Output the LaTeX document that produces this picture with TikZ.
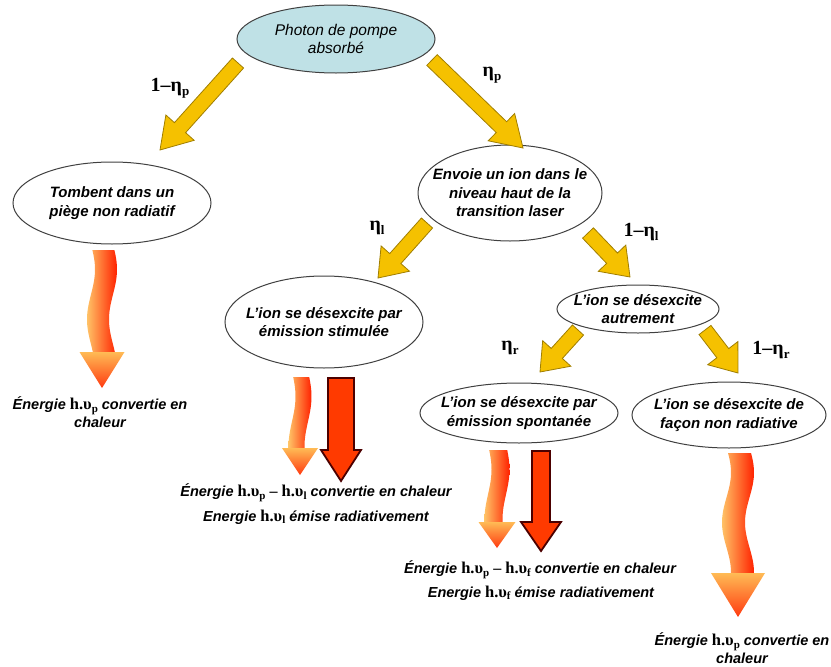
\documentclass[tikz,border=0pt]{standalone}
\usepackage{fontspec}
\setmainfont{Liberation Sans}
\newfontfamily\tnr{Liberation Serif}
\usetikzlibrary{shapes.geometric,calc}
\definecolor{cyanfill}{HTML}{BFE1E6}
\definecolor{gold}{HTML}{F5C100}
\definecolor{golddark}{HTML}{A07E00}
\definecolor{redarrow}{HTML}{FF3A00}
\definecolor{heatL}{HTML}{FFC266}
\definecolor{heatR}{HTML}{FF2200}
\definecolor{heatHT}{HTML}{FFBB55}
\definecolor{heatHB}{HTML}{FF3A10}
\newcommand\hv[1]{{\tnr\upshape\bfseries\fontsize{16.5}{16}\selectfont h.υ}\raisebox{-0.35ex}{\tnr\upshape\bfseries\fontsize{11}{11}\selectfont #1}}
\newcommand\etasub[1]{{\tnr\bfseries η}\raisebox{-0.45ex}{\tnr\bfseries\fontsize{13}{13}\selectfont #1}}
\newcommand\yarrow[3]{%
  \coordinate (ya) at (#1); \coordinate (yb) at (#2);
  \coordinate (yh) at ($(yb)!#3pt!(ya)$);
  \draw[yarrowstyle] ($(ya)!7.5pt!90:(yb)$) -- ($(yh)!7.5pt!90:(yb)$) -- ($(yh)!19pt!90:(yb)$) -- (yb)
     -- ($(yh)!19pt!-90:(yb)$) -- ($(yh)!7.5pt!-90:(yb)$) -- ($(ya)!7.5pt!-90:(yb)$) -- cycle;}
\newcommand\heat[7]{%
  \shade[left color=heatL, right color=heatR]
    plot[variable=\t, domain=0:1, samples=40, smooth] ({#1-#5+#7*sin((\t*(#3+2-#2))*3.6+20)},{#2+\t*(#3+2-#2)})
    -- plot[variable=\t, domain=0:1, samples=40, smooth] ({#1+#5+#7*sin(((1-\t)*(#3+2-#2))*3.6+20)},{#3+2-\t*(#3+2-#2)}) -- cycle;
  \shade[top color=heatHT, bottom color=heatHB] (#1-#6,#3) -- (#1+#6,#3) -- (#1,#4) -- cycle;}
\newcommand\redarr[6]{%
  \draw[redarrowstyle] (#1-#5,#2) -- (#1+#5,#2) -- (#1+#5,#3) -- (#1+#6,#3) -- (#1,#4) -- (#1-#6,#3) -- (#1-#5,#3) -- cycle;}
\tikzset{
  bubble/.style={ellipse, draw=black!75, line width=1pt, inner sep=0pt, fill=white},
  btxt/.style={align=center, inner sep=0pt, font=\fontsize{15}{18.5}\selectfont\bfseries\itshape},
  yarrowstyle/.style={fill=gold, draw=golddark, line width=0.8pt, line join=miter},
  redarrowstyle/.style={fill=redarrow, draw=black!70!red, line width=1.8pt, line join=miter},
  lab/.style={font=\fontsize{20}{20}\selectfont\tnr\bfseries, inner sep=0pt},
  etxt/.style={font=\fontsize{14.5}{18}\selectfont\bfseries\itshape, inner sep=0pt, align=center},
}
\begin{document}
\begin{tikzpicture}[x=1pt,y=-1pt]
\useasboundingbox (0,0) rectangle (831,667);
% ellipses
\node[bubble, fill=cyanfill, minimum width=198, minimum height=68] (photon) at (336,39) {};
\node[btxt, font=\fontsize{15.5}{18.5}\selectfont\itshape] (photonT) at (photon) {Photon de pompe\\absorbé};
\node[bubble, minimum width=198, minimum height=82] (tomb) at (112,203) {};
\node[btxt] (tombT) at (tomb) {Tombent dans un\\piège non radiatif};
\node[bubble, minimum width=184, minimum height=96] (envoie) at (510,193) {};
\node[btxt] (envoieT) at (envoie) {Envoie un ion dans le\\niveau haut de la\\transition laser};
\node[bubble, minimum width=198, minimum height=92] (stim) at (324,322) {};
\node[btxt] (stimT) at (stim) {L’ion se désexcite par\\émission stimulée};
\node[bubble, minimum width=162, minimum height=48] (autre) at (638,309) {};
\node[btxt] (autreT) at (autre) {L’ion se désexcite\\autrement};
\node[bubble, minimum width=198, minimum height=60] (spont) at (519,413) {};
\node[btxt] (spontT) at (spont) {L’ion se désexcite par\\émission spontanée};
\node[bubble, minimum width=194, minimum height=66] (nonrad) at (729,415) {};
\node[btxt] (nonradT) at (nonrad) {L’ion se désexcite de\\façon non radiative};
% yellow arrows
\yarrow{238,63}{160,150}{30}
\yarrow{432,60}{523,148}{30}
\yarrow{427,223}{378,278}{26}
\yarrow{588,233}{630,277}{26}
\yarrow{578,330}{540,372}{25}
\yarrow{705,330}{738,373}{25}
% labels
\node[lab] (l1) at (170,88) {1–\etasub{p}};
\node[lab] (l2) at (492,75) {\etasub{p}};
\node[lab] (l3) at (377,228) {\etasub{l}};
\node[lab] (l4) at (641,232) {1–\etasub{l}};
\node[lab] (l5) at (510,348) {\etasub{r}};
\node[lab] (l6) at (771,350) {1–\etasub{r}};
% heat arrows
\heat{102}{250}{352}{388}{11}{22.5}{4}
\heat{300}{377}{448}{475}{8}{18}{3.5}
\heat{497}{450}{522}{548}{9}{18.5}{3.5}
\heat{738}{453}{573}{617}{11.5}{27}{4.5}
% red arrows
\redarr{341}{378}{450}{481}{13}{20}
\redarr{541}{451}{522}{551}{9}{20}
% texts
\node[etxt] (t1) at (100,412) {Énergie \hv{p} convertie en\\chaleur};
\node[etxt] (t2a) at (316,493) {Énergie \hv{p} {\tnr\upshape\bfseries\fontsize{16}{16}\selectfont –} \hv{l} convertie en chaleur};
\node[etxt] (t2b) at (316,517) {Energie \hv{l} émise radiativement};
\node[etxt] (t3a) at (540,570) {Énergie \hv{p} {\tnr\upshape\bfseries\fontsize{16}{16}\selectfont –} \hv{f} convertie en chaleur};
\node[etxt] (t3b) at (541,593) {Energie \hv{f} émise radiativement};
\node[etxt] (t4) at (742,648) {Énergie \hv{p} convertie en\\chaleur};
\end{tikzpicture}
\end{document}
